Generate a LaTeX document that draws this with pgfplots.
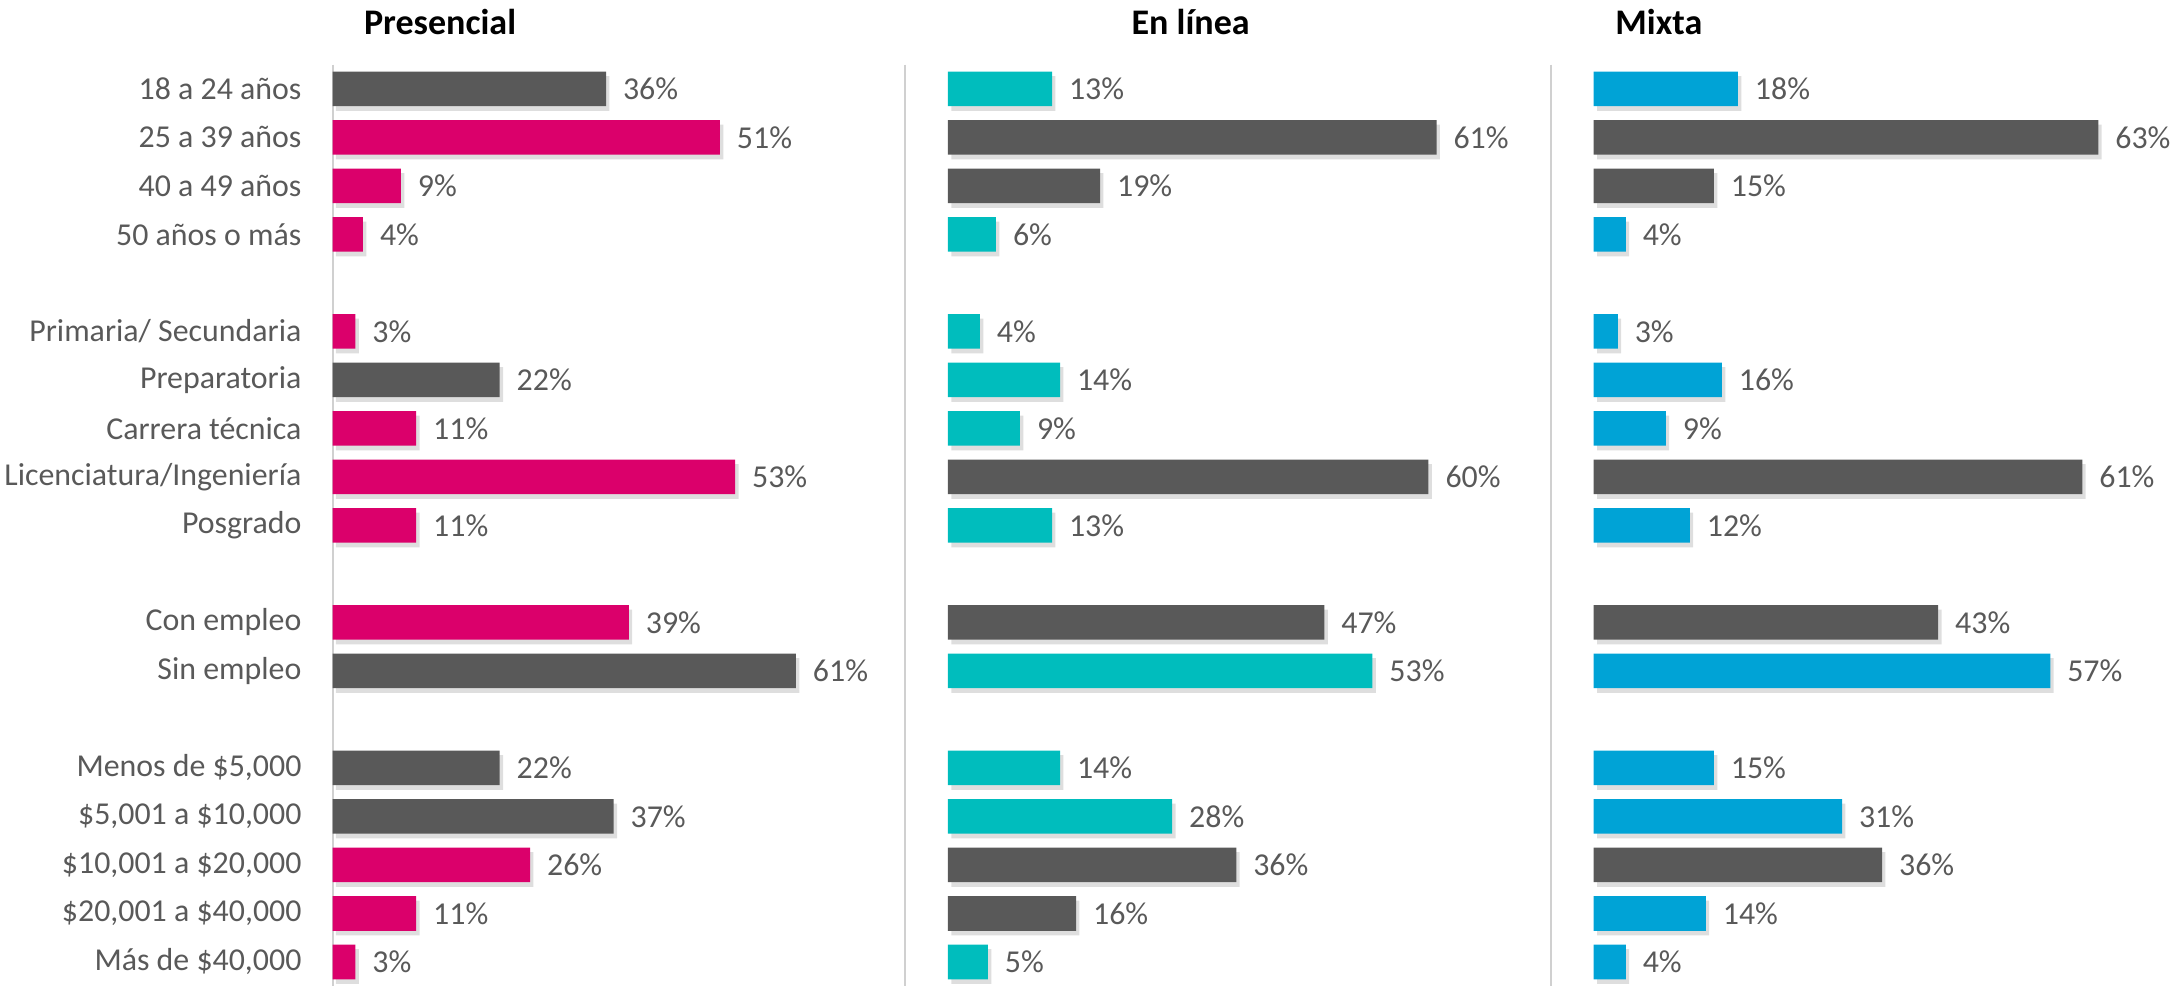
\documentclass[border=0pt]{standalone}
\usepackage{fontspec}
\setmainfont{Carlito}
\usepackage{pgfplots}
\usepackage{pgfplotstable}
\pgfplotsset{compat=1.18}

\definecolor{presC}{HTML}{DB006B}
\definecolor{darkbar}{HTML}{595959}
\definecolor{tealbar}{HTML}{00BDBD}
\definecolor{bluebar}{HTML}{00A3D6}
\definecolor{labgray}{HTML}{595959}
\definecolor{sepgray}{HTML}{D0D0D0}

% value, row (rows 0..18; empty rows 4, 10, 13)
\pgfplotstableread{
v r
51 1
9 2
4 3
3 5
11 7
53 8
11 9
39 11
26 16
11 17
3 18
}\presHi
\pgfplotstableread{
v r
36 0
22 6
61 12
22 14
37 15
}\presGray
\pgfplotstableread{
v r
13 0
6 3
4 5
14 6
9 7
13 9
53 12
14 14
28 15
5 18
}\linHi
\pgfplotstableread{
v r
61 1
19 2
60 8
47 11
36 16
16 17
}\linGray
\pgfplotstableread{
v r
18 0
4 3
3 5
16 6
9 7
12 9
57 12
15 14
31 15
14 17
4 18
}\mixHi
\pgfplotstableread{
v r
63 1
15 2
61 8
43 11
36 16
}\mixGray

\pgfplotsset{
  panel/.style={
    xbar, scale only axis, height=299.25pt,
    ymin=-0.5, ymax=18.5, y dir=reverse,
    axis x line=none, axis y line*=left,
    y axis line style={draw=sepgray, line width=0.7pt},
    major tick length=0pt,
    bar width=11.25pt,
    point meta=x,
    /pgf/number format/assume math mode=true,
    clip=false,
    ytick=\empty,
    every axis plot/.append style={draw=none, bar shift=0pt},
  },
  valbar/.style={fill=#1,
    nodes near coords={\pgfmathprintnumber{\pgfplotspointmeta}\%},
    nodes near coords style={font=\fontsize{10.35}{12}\selectfont, text=labgray, xshift=2pt}},
  shadowbar/.style={fill=black, fill opacity=0.13, xshift=1.1pt, yshift=-1.5pt},
}

\begin{document}
\begin{tikzpicture}
\useasboundingbox (0,0) rectangle (705.6pt,320pt);

% Presencial
\begin{axis}[panel, at={(108pt,-0.225pt)}, anchor=south west,
  width=160.3pt, xmin=0, xmax=65,
  ytick={0,1,2,3,5,6,7,8,9,11,12,14,15,16,17,18},
  yticklabels={18 a 24 años, 25 a 39 años, 40 a 49 años, 50 años o más,
    Primaria/ Secundaria, Preparatoria, Carrera técnica,
    Licenciatura/Ingeniería, Posgrado, Con empleo, Sin empleo,
    {Menos de \$5,000}, {\$5,001 a \$10,000}, {\$10,001 a \$20,000},
    {\$20,001 a \$40,000}, {Más de \$40,000}},
  yticklabel style={font=\fontsize{10.35}{12}\selectfont, text=labgray, xshift=-6.6pt},
]
\addplot[shadowbar] table[x=v, y=r] {\presHi};
\addplot[shadowbar] table[x=v, y=r] {\presGray};
\addplot[valbar=presC] table[x=v, y=r] {\presHi};
\addplot[valbar=darkbar] table[x=v, y=r] {\presGray};
\end{axis}

% En linea
\begin{axis}[panel, at={(293.85pt,-0.225pt)}, anchor=south west,
  width=183pt, xmin=-5.36, xmax=65]
\addplot[shadowbar] table[x=v, y=r] {\linHi};
\addplot[shadowbar] table[x=v, y=r] {\linGray};
\addplot[valbar=tealbar] table[x=v, y=r] {\linHi};
\addplot[valbar=darkbar] table[x=v, y=r] {\linGray};
\end{axis}

% Mixta
\begin{axis}[panel, at={(503.55pt,-0.225pt)}, anchor=south west,
  width=183pt, xmin=-5.36, xmax=65]
\addplot[shadowbar] table[x=v, y=r] {\mixHi};
\addplot[shadowbar] table[x=v, y=r] {\mixGray};
\addplot[valbar=bluebar] table[x=v, y=r] {\mixHi};
\addplot[valbar=darkbar] table[x=v, y=r] {\mixGray};
\end{axis}

\node[font=\bfseries\fontsize{11.7}{14}\selectfont, anchor=base] at (142.9pt,308.7pt) {Presencial};
\node[font=\bfseries\fontsize{11.7}{14}\selectfont, anchor=base] at (386.6pt,308.7pt) {En línea};
\node[font=\bfseries\fontsize{11.7}{14}\selectfont, anchor=base] at (538.65pt,308.7pt) {Mixta};
\end{tikzpicture}
\end{document}
